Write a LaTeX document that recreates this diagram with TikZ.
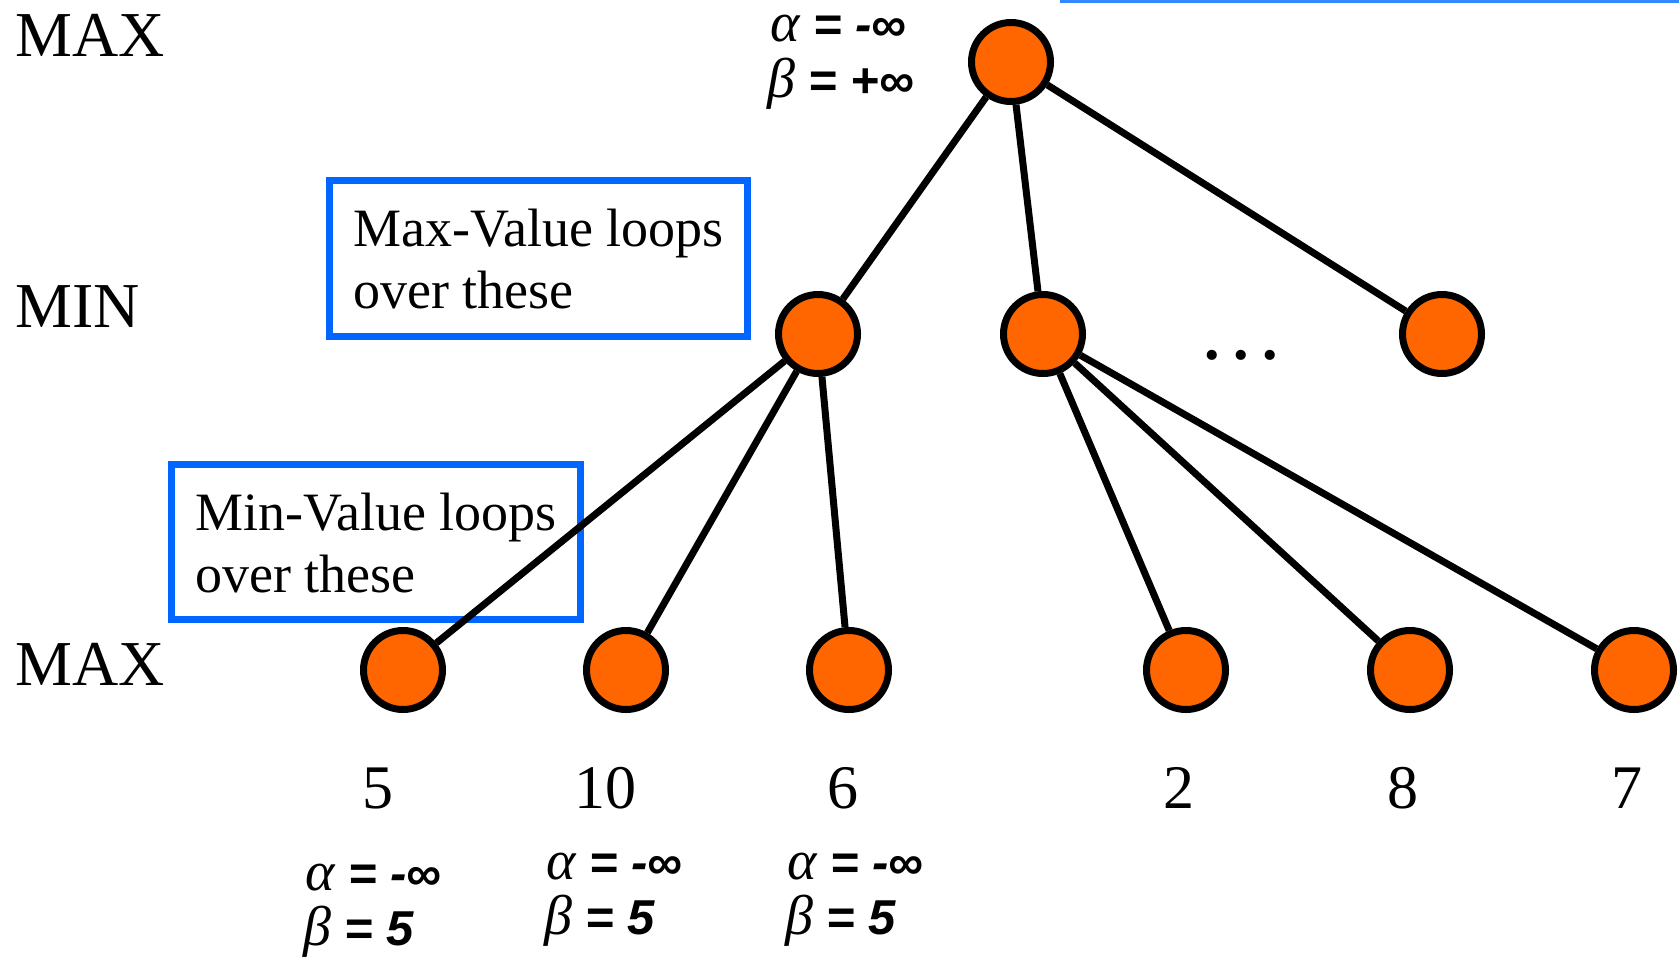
\documentclass[tikz,border=0pt]{standalone}
\usepackage{fontspec}
\setmainfont{Liberation Serif}
\newfontfamily\lsans{Liberation Sans}
\newfontfamily\lserif{Liberation Serif}
\definecolor{orng}{HTML}{FF6600}
\definecolor{boxblue}{HTML}{0066FF}
\definecolor{topblue}{HTML}{3388FF}
\newcommand{\mygk}[1]{{\fontsize{56}{60}\selectfont\lserif\itshape #1}}
\newcommand{\mysb}[1]{{\fontsize{49}{54}\selectfont\lsans\bfseries\itshape #1}}
\begin{document}
\begin{tikzpicture}[x=1pt,y=-1pt,
  gnode/.style={circle, draw=black, fill=orng, line width=7pt, minimum size=79pt, inner sep=0pt},
  conn/.style={line width=7pt, draw=black},
  bluebox/.style={draw=boxblue, line width=7pt, inner sep=0pt},
  lvl/.style={font=\fontsize{64}{70}\selectfont, anchor=base west, inner sep=0pt},
  boxtxt/.style={font=\fontsize{54}{60}\selectfont, anchor=base west, inner sep=0pt},
  num/.style={font=\fontsize{62}{70}\selectfont, anchor=base, inner sep=0pt},
  ab/.style={anchor=base west, inner sep=0pt}
]
\useasboundingbox (0,0) rectangle (1679,956);

% top blue line
\coordinate (tl1) at (1060,1.5);
\coordinate (tl2) at (1679,1.5);
\draw[topblue, line width=3pt] (tl1) -- (tl2);

% level labels
\node[lvl] (lmax1) at (15,56) {MAX};
\node[lvl] (lmin) at (15,327) {MIN};
\node[lvl] (lmax2) at (15,685) {MAX};

% blue boxes
\node[bluebox, minimum width=418pt, minimum height=156pt, anchor=north west] (box1) at (326,177) {};
\node[boxtxt] (b1t1) at (353,246) {Max-Value loops};
\node[boxtxt] (b1t2) at (353,308) {over these};
\node[bluebox, minimum width=409pt, minimum height=155pt, anchor=north west] (box2) at (168,461) {};
\node[boxtxt] (b2t1) at (195,530) {Min-Value loops};
\node[boxtxt] (b2t2) at (195,592) {over these};

% nodes
\node[gnode] (r) at (1011,62) {};
\node[gnode] (m1) at (818,334) {};
\node[gnode] (m2) at (1043,334) {};
\node[gnode] (m3) at (1442,334) {};
\node[gnode] (l1) at (403,670) {};
\node[gnode] (l2) at (626,670) {};
\node[gnode] (l3) at (849,670) {};
\node[gnode] (l4) at (1186,670) {};
\node[gnode] (l5) at (1410,670) {};
\node[gnode] (l6) at (1634,670) {};

% edges
\draw[conn] (r) -- (m1);
\draw[conn] (r) -- (m2);
\draw[conn] (r) -- (m3);
\draw[conn] (m1) -- (l1);
\draw[conn] (m1) -- (l2);
\draw[conn] (m1) -- (l3);
\draw[conn] (m2) -- (l4);
\draw[conn] (m2) -- (l5);
\draw[conn] (m2) -- (l6);

% dots
\node[font=\fontsize{62}{64}\selectfont\bfseries, anchor=base, inner sep=0pt] (dots) at (1241,359) {.\hspace{13.5pt}.\hspace{13.5pt}.};

% leaf values
\node[num] (v1) at (378,808) {5};
\node[num] (v2) at (605,808) {10};
\node[num] (v3) at (843,808) {6};
\node[num] (v4) at (1179,808) {2};
\node[num] (v5) at (1403,808) {8};
\node[num] (v6) at (1627,808) {7};

% alpha beta labels
\node[ab] (ta) at (770,41) {\mygk{α}\mysb{ = -∞}};
\node[ab] (tb) at (767,97) {\mygk{β}\mysb{ = +∞}};
\node[ab] (a1) at (305,890) {\mygk{α}\mysb{ = -∞}};
\node[ab] (b1) at (303,945) {\mygk{β}\mysb{ = 5}};
\node[ab] (a2) at (546,879) {\mygk{α}\mysb{ = -∞}};
\node[ab] (b2) at (544,934) {\mygk{β}\mysb{ = 5}};
\node[ab] (a3) at (787,879) {\mygk{α}\mysb{ = -∞}};
\node[ab] (b3) at (785,934) {\mygk{β}\mysb{ = 5}};
\end{tikzpicture}
\end{document}
